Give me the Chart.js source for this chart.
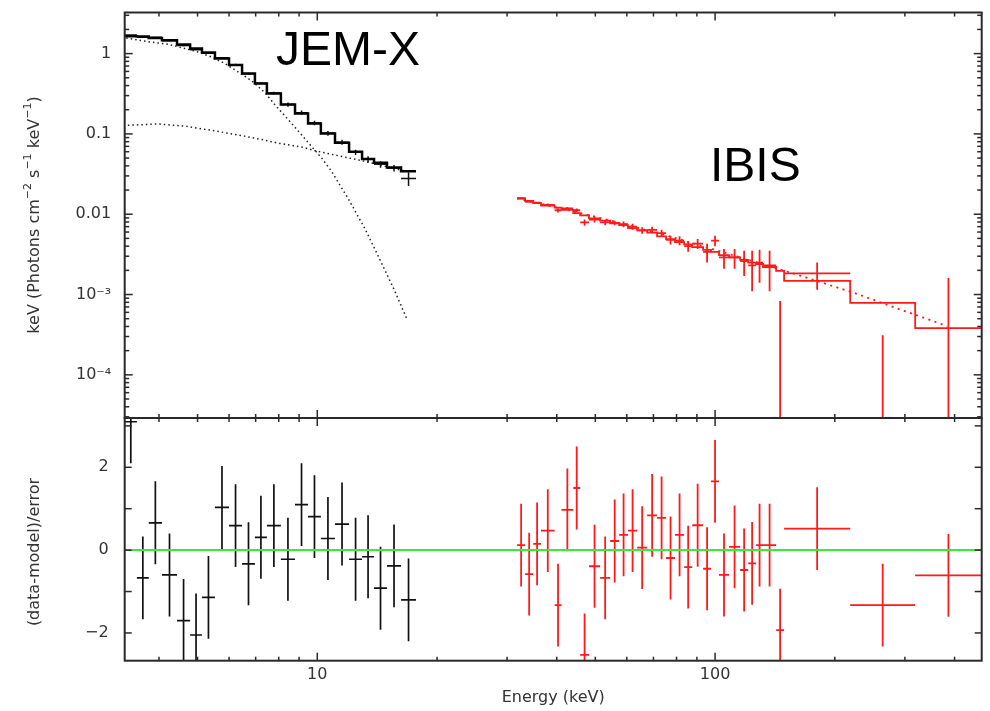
<!DOCTYPE html>
<html>
<head>
<meta charset="utf-8">
<script src="https://cdn.jsdelivr.net/npm/chart.js@4.4.0/dist/chart.umd.min.js"></script>
<style>
  html, body { margin: 0; padding: 0; background: #fff; }
  #wrap { position: relative; width: 990px; height: 711px; }
  canvas { position: absolute; left: 0; }
  #top { top: 0; }
  #bot { top: 400px; }
</style>
</head>
<body>
<div id="wrap">
  <canvas id="top" width="990" height="430"></canvas>
  <canvas id="bot" width="990" height="311"></canvas>
</div>
<script>
// energy axis (keV)
const xMin = 3.28, xMax = 468;
const xTickVals = [10, 100];
const xTickText = ["10", "100"];

// JEM-X channels
const jemxEdges = [3.28, 3.52, 3.77, 4.07, 4.44, 4.79, 5.13, 5.53, 6.0, 6.47, 6.97, 7.47, 8.10, 8.79, 9.48, 10.21, 11.08, 12.02, 12.96, 13.89, 14.97, 16.24, 17.71];
const jemxModel = [1.65, 1.63, 1.57, 1.47, 1.30, 1.16, 1.035, 0.87, 0.72, 0.567, 0.425, 0.319, 0.233, 0.18, 0.135, 0.101, 0.0774, 0.0598, 0.0486, 0.0437, 0.0383, 0.0344];
const jemxFlux = [1.70, 1.60, 1.60, 1.45, 1.26, 1.12, 1.01, 0.885, 0.728, 0.562, 0.428, 0.323, 0.232, 0.184, 0.137, 0.102, 0.0788, 0.0592, 0.0484, 0.0418, 0.0376, 0.0279];
const jemxFluxErr = [0.03, 0.03, 0.03, 0.03, 0.03, 0.025, 0.022, 0.02, 0.017, 0.015, 0.012, 0.012, 0.014, 0.012, 0.009, 0.007, 0.0055, 0.0045, 0.0042, 0.004, 0.0035, 0.0055];
const jemxResid = [3.1, -0.67, 0.66, -0.6, -1.7, -2.05, -1.14, 1.03, 0.59, -0.33, 0.31, 0.59, -0.22, 1.1, 0.81, 0.28, 0.63, -0.22, -0.16, -0.92, -0.38, -1.2];

// JEM-X model components (dotted)
const bbE = [3.31, 3.82, 4.21, 4.64, 5.01, 5.41, 5.85, 6.32, 6.83, 7.37, 7.89, 8.62, 9.22, 9.77, 10.26, 10.87, 11.97, 13.18, 14.38, 15.67, 16.81];
const bbFlux = [1.56, 1.39, 1.31, 1.16, 1.05, 0.91, 0.755, 0.593, 0.46, 0.33, 0.22, 0.135, 0.092, 0.066, 0.05, 0.034, 0.0155, 0.0066, 0.0027, 0.0011, 0.00049];
const plE = [3.34, 3.98, 4.64, 5.41, 6.32, 7.26, 8.06, 9.22, 9.97, 11.40, 12.81, 14.1, 16.81];
const plFlux = [0.128, 0.133, 0.125, 0.111, 0.097, 0.085, 0.076, 0.068, 0.061, 0.053, 0.047, 0.042, 0.034];

// IBIS channels
const ibisEdges = [31.8, 33.3, 34.9, 36.5, 39.5, 41.1, 44.0, 45.8, 48.2, 51.4, 54.5, 57.4, 60.4, 63.7, 67.5, 71.5, 75.3, 79.3, 83.6, 87.6, 93.3, 97.7, 102.3, 108.4, 115.6, 121.1, 126.8, 132.0, 142.4, 149.1, 218.6, 318.4, 468];
const ibisModel = [0.0157, 0.0146, 0.0138, 0.0128, 0.0121, 0.0113, 0.0103, 0.0097, 0.0089, 0.0083, 0.0077, 0.0073, 0.0067, 0.0063, 0.0059, 0.0053, 0.0049, 0.0045, 0.0042, 0.0039, 0.0036, 0.0034, 0.0031, 0.0029, 0.0027, 0.0025, 0.0024, 0.0022, 0.00197, 0.00148, 0.000788, 0.000382];
const ibisFlux = [0.0158, 0.0143, 0.0139, 0.0131, 0.0112, 0.0118, 0.0112, 0.0079, 0.0086, 0.0079, 0.0078, 0.0075, 0.0070, 0.0063, 0.0064, 0.0058, 0.0048, 0.0047, 0.0040, 0.0043, 0.0034, 0.0047, 0.0029, 0.0029, 0.0026, 0.0023, 0.0025, 0.0023, -0.0004, 0.00183, -0.00115, -0.00154];
const ibisFluxErr = [0.0004, 0.0004, 0.0004, 0.0005, 0.0007, 0.0005, 0.0006, 0.0007, 0.0007, 0.0006, 0.0005, 0.0006, 0.0006, 0.0006, 0.0006, 0.0006, 0.0006, 0.0006, 0.0006, 0.0006, 0.0009, 0.0007, 0.0008, 0.0008, 0.0009, 0.0012, 0.0011, 0.0012, 0.00123, 0.00068, 0.00146, 0.00315];
const ibisResid = [0.12, -0.58, 0.15, 0.47, -1.33, 0.97, 1.5, -2.53, -0.39, -0.67, 0.22, 0.37, 0.47, 0.06, 0.84, 0.78, -0.19, 0.37, -0.41, 0.6, -0.45, 1.66, -0.6, 0.08, -0.48, -0.32, 0.12, 0.12, -1.93, 0.52, -1.33, -0.61];

// IBIS model continuum (dotted)
const ibisCurveE = [31.8, 40, 50, 60, 70, 80, 100, 120, 140, 160, 180, 200, 230, 260, 300, 340, 383];
const ibisCurveFlux = [0.0158, 0.0121, 0.0093, 0.0074, 0.0060, 0.0050, 0.0036, 0.00275, 0.00218, 0.00178, 0.00148, 0.00125, 0.00100, 0.00080, 0.00062, 0.00050, 0.000404];

// y axes
const fluxMin = 2.9e-5, fluxMax = 3.25;
const fluxTickVals = [1, 0.1, 0.01, 0.001, 0.0001];
const fluxTickText = ["1", "0.1", "0.01", "10\u207B\u00B3", "10\u207B\u2074"];
const resMin = -2.67, resMax = 3.19;
const resTickVals = [2, 0, -2];
const resTickText = ["2", "0", "\u22122"];
const RES_ERR = 1;

const FONT = "DejaVu Sans";
const INK = "#333";
const RED = "#ff1a1a";

const stepPts = (edges, vals) => edges.map((e, i) => ({ x: e, y: vals[Math.min(i, vals.length - 1)] }));
const curvePts = (es, vs) => es.map((e, i) => ({ x: e, y: vs[i] }));
const crossPts = (edges, vals, errs) => vals.map((v, i) => ({
  x: Math.sqrt(edges[i] * edges[i + 1]), y: v,
  xLo: edges[i], xHi: edges[i + 1], yLo: v - errs[i], yHi: v + errs[i]
}));
const residPts = (edges, vals) => vals.map((v, i) => ({
  x: Math.sqrt(edges[i] * edges[i + 1]), y: v,
  xLo: edges[i], xHi: edges[i + 1], yLo: v - RES_ERR, yHi: v + RES_ERR
}));

// minor tick positions for the inward tick marks
const xMinor = [];
for (const d of [1, 10, 100]) for (let k = 2; k <= 9; k++) if (k * d > xMin && k * d < xMax) xMinor.push(k * d);
const fluxMinor = [];
for (const d of [1e-5, 1e-4, 1e-3, 1e-2, 1e-1, 1]) for (let k = 2; k <= 9; k++) if (k * d > fluxMin && k * d < fluxMax) fluxMinor.push(k * d);

const crosses = {
  id: "crosses",
  beforeDatasetsDraw(chart) {
    const { ctx, chartArea: a, scales: { x, y } } = chart;
    const isLog = y.type === "logarithmic";
    const py = v => (!isLog || v > 0) ? y.getPixelForValue(v) : a.bottom + 10;
    ctx.save();
    ctx.beginPath();
    ctx.rect(a.left, a.top, a.width, a.height);
    ctx.clip();
    chart.data.datasets.forEach(ds => {
      if (!ds.errorBars) return;
      ctx.strokeStyle = ds.borderColor;
      ctx.lineWidth = ds.borderWidth;
      ds.data.forEach(p => {
        const xc = x.getPixelForValue(p.x);
        ctx.beginPath();
        ctx.moveTo(xc, py(p.yLo));
        ctx.lineTo(xc, py(p.yHi));
        if (!isLog || p.y > 0) {
          ctx.moveTo(x.getPixelForValue(p.xLo), py(p.y));
          ctx.lineTo(x.getPixelForValue(p.xHi), py(p.y));
        }
        ctx.stroke();
      });
    });
    ctx.restore();
  }
};

const frame = {
  id: "frame",
  afterDraw(chart, args, o) {
    const { ctx, chartArea: a, scales: { x, y } } = chart;
    ctx.save();
    ctx.strokeStyle = "#2a2a2a";
    ctx.lineWidth = 1.5;
    const seg = (x1, y1, x2, y2) => { ctx.beginPath(); ctx.moveTo(x1, y1); ctx.lineTo(x2, y2); ctx.stroke(); };
    xTickVals.forEach(v => { const px = x.getPixelForValue(v); seg(px, a.bottom, px, a.bottom - 8); seg(px, a.top, px, a.top + 8); });
    xMinor.forEach(v => { const px = x.getPixelForValue(v); seg(px, a.bottom, px, a.bottom - 4); seg(px, a.top, px, a.top + 4); });
    o.yMajor.forEach(v => { const py = y.getPixelForValue(v); seg(a.left, py, a.left + o.majorLen, py); seg(a.right, py, a.right - o.majorLen, py); });
    o.yMinor.forEach(v => { const py = y.getPixelForValue(v); seg(a.left, py, a.left + 4.5, py); seg(a.right, py, a.right - 4.5, py); });
    ctx.lineWidth = 2;
    ctx.strokeRect(a.left, a.top, a.width, a.height);
    ctx.restore();
  }
};

const axisTitle = {
  id: "axisTitle",
  afterDraw(chart, args, o) {
    const ctx = chart.ctx;
    const big = "16px '" + FONT + "'", small = "11px '" + FONT + "'";
    ctx.save();
    ctx.translate(o.x, o.y);
    ctx.rotate(-Math.PI / 2);
    ctx.fillStyle = INK;
    ctx.textBaseline = "middle";
    let total = 0;
    o.parts.forEach(([t, sup]) => { ctx.font = sup ? small : big; total += ctx.measureText(t).width; });
    let cx = -total / 2;
    o.parts.forEach(([t, sup]) => {
      ctx.font = sup ? small : big;
      ctx.fillText(t, cx, sup ? -7 : 0);
      cx += ctx.measureText(t).width;
    });
    ctx.restore();
  }
};

const labels = {
  id: "labels",
  afterDraw(chart, args, o) {
    const { ctx, scales: { x, y } } = chart;
    ctx.save();
    ctx.fillStyle = "#000";
    ctx.font = "48px 'Liberation Sans'";
    ctx.textBaseline = "alphabetic";
    o.items.forEach(it => ctx.fillText(it.text, x.getPixelForValue(it.e), y.getPixelForValue(it.f)));
    ctx.restore();
  }
};

// fixed axis box, no extra room for end labels
const fixWidth = s => { s.width = 124.7; s.paddingTop = 0; s.paddingBottom = 0; };

const baseOpts = {
  responsive: false,
  animation: false,
  events: []
};

new Chart(document.getElementById("top"), {
  type: "line",
  data: {
    datasets: [
      { label: "IBIS data", type: "scatter", errorBars: true, data: crossPts(ibisEdges, ibisFlux, ibisFluxErr), borderColor: RED, borderWidth: 1.8, pointRadius: 0, showLine: false },
      { label: "JEM-X data", type: "scatter", errorBars: true, data: crossPts(jemxEdges, jemxFlux, jemxFluxErr), borderColor: "#111", borderWidth: 1.5, pointRadius: 0, showLine: false },
      { label: "JEM-X model", data: stepPts(jemxEdges, jemxModel), stepped: true, borderColor: "#000", borderWidth: 2.5, pointRadius: 0, fill: false },
      { label: "IBIS model", data: stepPts(ibisEdges, ibisModel), stepped: true, borderColor: RED, borderWidth: 1.8, pointRadius: 0, fill: false },
      { label: "blackbody", data: curvePts(bbE, bbFlux), borderColor: "#222", borderWidth: 1.5, borderDash: [1.5, 3], pointRadius: 0, fill: false },
      { label: "power law", data: curvePts(plE, plFlux), borderColor: "#222", borderWidth: 1.5, borderDash: [1.5, 3], pointRadius: 0, fill: false },
      { label: "IBIS continuum", data: curvePts(ibisCurveE, ibisCurveFlux), borderColor: RED, borderWidth: 1.8, borderDash: [2, 4.5], pointRadius: 0, fill: false }
    ]
  },
  options: {
    ...baseOpts,
    layout: { padding: { left: 0, right: 8.3, top: 12.5, bottom: 12 } },
    plugins: {
      legend: { display: false },
      tooltip: { enabled: false },
      frame: { yMajor: fluxTickVals, yMinor: fluxMinor, majorLen: 8 },
      axisTitle: { x: 35, y: 215, parts: [["keV (Photons cm", 0], ["\u22122", 1], [" s", 0], ["\u22121", 1], [" keV", 0], ["\u22121", 1], [")", 0]] },
      labels: { items: [{ text: "JEM-X", e: 7.87, f: 0.72 }, { text: "IBIS", e: 97.1, f: 0.0258 }] }
    },
    scales: {
      x: { type: "logarithmic", min: xMin, max: xMax, display: false },
      y: {
        type: "logarithmic", min: fluxMin, max: fluxMax,
        afterFit: fixWidth,
        afterBuildTicks: s => { s.ticks = fluxTickVals.map(v => ({ value: v })); },
        grid: { display: false, drawTicks: false },
        border: { display: false },
        ticks: { autoSkip: false, padding: 13.5, color: INK, font: { family: FONT, size: 16 }, callback: (v, i) => fluxTickText[i] }
      }
    }
  },
  plugins: [crosses, frame, axisTitle, labels]
});

new Chart(document.getElementById("bot"), {
  type: "line",
  data: {
    datasets: [
      { label: "zero", data: [{ x: xMin, y: 0 }, { x: xMax, y: 0 }], borderColor: "#33ee33", borderWidth: 2, pointRadius: 0, fill: false },
      { label: "IBIS residuals", type: "scatter", errorBars: true, data: residPts(ibisEdges, ibisResid), borderColor: RED, borderWidth: 1.8, pointRadius: 0, showLine: false },
      { label: "JEM-X residuals", type: "scatter", errorBars: true, data: residPts(jemxEdges, jemxResid), borderColor: "#111", borderWidth: 1.7, pointRadius: 0, showLine: false }
    ]
  },
  options: {
    ...baseOpts,
    layout: { padding: { left: 0, right: 8.3, top: 18, bottom: 0 } },
    plugins: {
      legend: { display: false },
      tooltip: { enabled: false },
      frame: { yMajor: [-2, -1, 0, 1, 2, 3], yMinor: [], majorLen: 7 },
      axisTitle: { x: 35, y: 152, parts: [["(data-model)/error", 0]] }
    },
    scales: {
      x: {
        type: "logarithmic", min: xMin, max: xMax,
        afterFit: s => { s.height = 50.3; s.paddingLeft = 0; s.paddingRight = 0; },
        afterBuildTicks: s => { s.ticks = xTickVals.map(v => ({ value: v })); },
        grid: { display: false, drawTicks: false },
        border: { display: false },
        ticks: { autoSkip: false, maxRotation: 0, padding: 5, color: INK, font: { family: FONT, size: 16 }, callback: (v, i) => xTickText[i] },
        title: { display: true, text: "Energy (keV)", color: INK, font: { family: FONT, size: 16 }, padding: { top: 0, bottom: 4 } }
      },
      y: {
        type: "linear", min: resMin, max: resMax,
        afterFit: fixWidth,
        afterBuildTicks: s => { s.ticks = resTickVals.map(v => ({ value: v })); },
        grid: { display: false, drawTicks: false },
        border: { display: false },
        ticks: { autoSkip: false, padding: 16, color: INK, font: { family: FONT, size: 16 }, callback: (v, i) => resTickText[i] }
      }
    }
  },
  plugins: [crosses, frame, axisTitle]
});
</script>
</body>
</html>
